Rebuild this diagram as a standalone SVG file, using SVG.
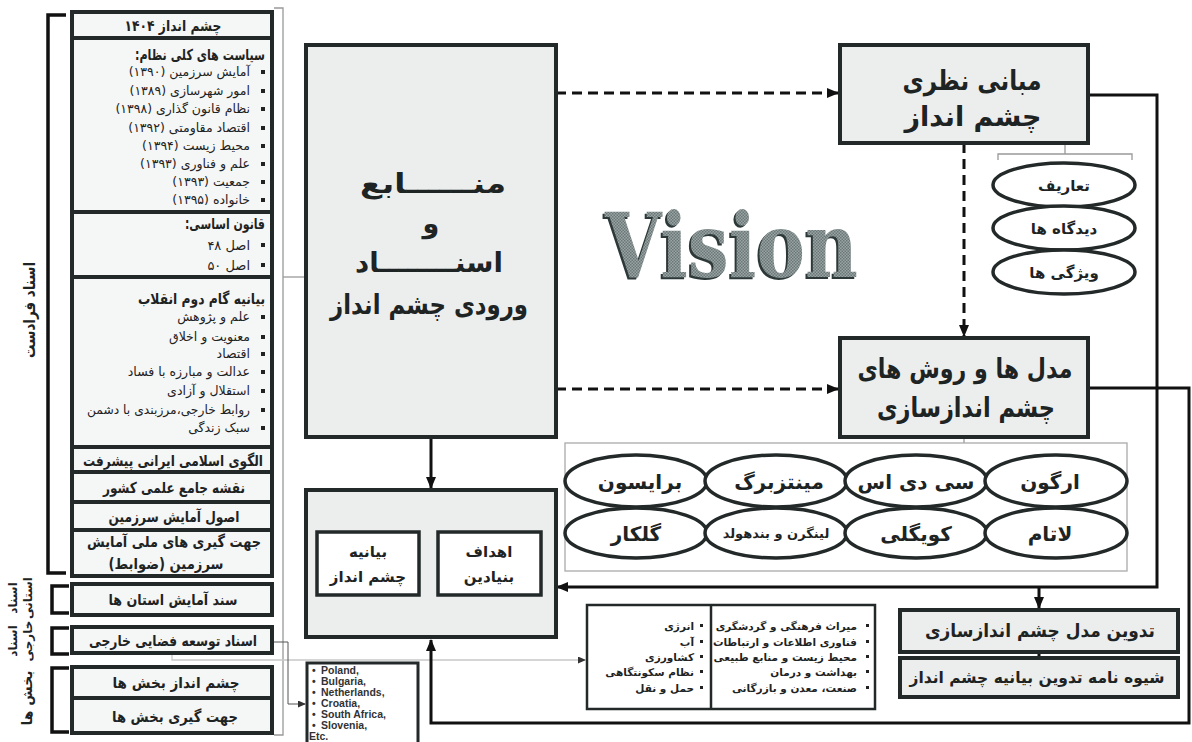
<svg xmlns="http://www.w3.org/2000/svg" width="1192" height="742" viewBox="0 0 1192 742">
<defs>
<style>
.fa{font-family:"DejaVu Sans","Noto Sans",sans-serif;fill:#1e2323}
.b{font-weight:bold}
.rtl{direction:rtl;text-anchor:start}
.mid{text-anchor:middle}
.box{fill:#eceeee;stroke:#222928;stroke-width:4}
.lbox{fill:#f5f6f6;stroke:#222928;stroke-width:4}
.wbox{fill:#ffffff;stroke:#222928;stroke-width:3.5}
.ell{fill:#ffffff;stroke:#222928;stroke-width:3.5}
.sol{fill:none;stroke:#111;stroke-width:3}
.dash{fill:none;stroke:#111;stroke-width:3;stroke-dasharray:10 6}
.thin{fill:none;stroke:#999;stroke-width:1.3}
.brk{fill:none;stroke:#111;stroke-width:3.5}
.bul{fill:#222}
.en{font-family:"Liberation Sans",Arial,sans-serif;font-weight:bold;fill:#333;font-size:10.5px}
</style>
<marker id="ah" markerWidth="12" markerHeight="10" refX="11" refY="5" orient="auto" markerUnits="userSpaceOnUse"><path d="M0,0 L12,5 L0,10 z" fill="#111"/></marker>
<marker id="ahs" markerWidth="8" markerHeight="7" refX="7" refY="3.5" orient="auto" markerUnits="userSpaceOnUse"><path d="M0,0 L8,3.5 L0,7 z" fill="#333"/></marker>
<pattern id="dots" width="3" height="3" patternUnits="userSpaceOnUse"><rect width="3" height="3" fill="#9aa4a4"/><rect width="1.5" height="1.5" fill="#6b7777"/><rect x="1.5" y="1.5" width="1.5" height="1.5" fill="#6b7777"/></pattern>
</defs>
<rect width="1192" height="742" fill="#ffffff"/>

<!-- connectors -->
<g id="connectors">
<path class="thin" d="M274,8 H283 V735 H274"/>
<path class="thin" d="M283,277 H306"/>
<path class="thin" d="M172,653 V660 H585" marker-end="url(#ahs)" style="stroke:#c8c8c8"/>
<path d="M272,642 H288 V704 H305" fill="none" stroke="#555" stroke-width="1" marker-end="url(#ahs)"/>
<path class="dash" d="M556,93 H838" marker-end="url(#ah)"/>
<path class="dash" d="M556,389 H838" marker-end="url(#ah)"/>
<path class="dash" d="M964,143 V336" marker-end="url(#ah)"/>
<path class="sol" d="M431,437 V488" marker-end="url(#ah)"/>
<path class="sol" d="M1088,95 H1157 V587 H557" marker-end="url(#ah)"/>
<path class="sol" d="M1039,587 V608" marker-end="url(#ah)"/>
<path class="sol" d="M1088,388 H1189 V723 H431 V640" marker-end="url(#ah)"/>
<path class="sol" d="M1039,652 V658"/>
<path class="thin" d="M964,437 V443"/>
<path class="thin" d="M998,160 V154 H1132 V160 M1065,143 V154"/>
<path d="M438,564 H421" fill="none" stroke="#222" stroke-width="2.5" marker-end="url(#ahs)"/>
</g>

<!-- left brackets and labels -->
<g id="brackets">
<path class="brk" d="M66,15 H48 V573 H66"/>
<path class="brk" d="M69,586 H52 V613 H69"/>
<path class="brk" d="M69,628 H52 V654 H69"/>
<path class="brk" d="M69,668 H52 V732 H69"/>
<text class="fa b mid" font-size="16" transform="translate(30,310) rotate(-90)" dy="5" textLength="96" lengthAdjust="spacingAndGlyphs">اسناد فرادست</text>
<text class="fa b mid" font-size="12" transform="translate(13,598) rotate(-90)" dy="4">اسناد</text>
<text class="fa b mid" font-size="12" transform="translate(28,598) rotate(-90)" dy="4">استانی</text>
<text class="fa b mid" font-size="12" transform="translate(13,641) rotate(-90)" dy="4">اسناد</text>
<text class="fa b mid" font-size="12" transform="translate(28,641) rotate(-90)" dy="4">خارجی</text>
<text class="fa b mid" font-size="14" transform="translate(28,698) rotate(-90)" dy="4">بخش ها</text>
</g>

<g id="n-vision1404">
<rect class="lbox" x="72" y="12" width="200" height="26"/>
<text class="fa b mid" font-size="15" x="173" y="31" textLength="97" lengthAdjust="spacingAndGlyphs">چشم انداز ۱۴۰۴</text>
</g>

<g id="n-policies">
<rect class="lbox" x="72" y="38" width="200" height="174"/>
<text class="fa b rtl" font-size="15" x="265" y="60" textLength="130" lengthAdjust="spacingAndGlyphs">سیاست های کلی نظام:</text>
<g font-size="12.5">
<text class="fa rtl" x="250" y="76">آمایش سرزمین (۱۳۹۰)</text>
<text class="fa rtl" x="250" y="95">امور شهرسازی (۱۳۸۹)</text>
<text class="fa rtl" x="250" y="113">نظام قانون گذاری (۱۳۹۸)</text>
<text class="fa rtl" x="250" y="132">اقتصاد مقاومتی (۱۳۹۲)</text>
<text class="fa rtl" x="250" y="150">محیط زیست (۱۳۹۴)</text>
<text class="fa rtl" x="250" y="168">علم و فناوری (۱۳۹۳)</text>
<text class="fa rtl" x="250" y="186">جمعیت (۱۳۹۳)</text>
<text class="fa rtl" x="250" y="204">خانواده (۱۳۹۵)</text>
</g>
<g class="bul">
<rect x="261" y="70" width="4" height="4"/><rect x="261" y="89" width="4" height="4"/><rect x="261" y="107" width="4" height="4"/><rect x="261" y="126" width="4" height="4"/><rect x="261" y="144" width="4" height="4"/><rect x="261" y="162" width="4" height="4"/><rect x="261" y="180" width="4" height="4"/><rect x="261" y="198" width="4" height="4"/>
</g>
</g>

<g id="n-constitution">
<rect class="lbox" x="72" y="212" width="200" height="65"/>
<text class="fa b rtl" font-size="15" x="265" y="229" textLength="80" lengthAdjust="spacingAndGlyphs">قانون اساسی:</text>
<text class="fa rtl" font-size="13" x="250" y="250">اصل ۴۸</text>
<text class="fa rtl" font-size="13" x="250" y="270">اصل ۵۰</text>
<rect class="bul" x="261" y="243" width="4" height="4"/><rect class="bul" x="261" y="263" width="4" height="4"/>
</g>

<g id="n-statement">
<rect class="lbox" x="72" y="277" width="200" height="170"/>
<text class="fa b rtl" font-size="15" x="265" y="304" textLength="127" lengthAdjust="spacingAndGlyphs">بیانیه گام دوم انقلاب</text>
<g font-size="12.5">
<text class="fa rtl" x="250" y="321">علم و پژوهش</text>
<text class="fa rtl" x="250" y="341">معنویت و اخلاق</text>
<text class="fa rtl" x="250" y="358">اقتصاد</text>
<text class="fa rtl" x="250" y="376">عدالت و مبارزه با فساد</text>
<text class="fa rtl" x="250" y="395">استقلال و آزادی</text>
<text class="fa rtl" x="250" y="414" textLength="163" lengthAdjust="spacingAndGlyphs">روابط خارجی،مرزبندی با دشمن</text>
<text class="fa rtl" x="250" y="432">سبک زندگی</text>
</g>
<g class="bul">
<rect x="261" y="315" width="4" height="4"/><rect x="261" y="335" width="4" height="4"/><rect x="261" y="352" width="4" height="4"/><rect x="261" y="370" width="4" height="4"/><rect x="261" y="389" width="4" height="4"/><rect x="261" y="408" width="4" height="4"/><rect x="261" y="426" width="4" height="4"/>
</g>
</g>

<g id="n-olgoo">
<rect class="lbox" x="72" y="447" width="200" height="25"/>
<text class="fa b mid" font-size="15" x="173" y="466" textLength="180" lengthAdjust="spacingAndGlyphs">الگوی اسلامی ایرانی پیشرفت</text>
</g>
<g id="n-naghshe">
<rect class="lbox" x="72" y="472" width="200" height="30"/>
<text class="fa b mid" font-size="15" x="174" y="493" textLength="142" lengthAdjust="spacingAndGlyphs">نقشه جامع علمی کشور</text>
</g>
<g id="n-osool">
<rect class="lbox" x="72" y="502" width="200" height="28"/>
<text class="fa b mid" font-size="15" x="174" y="522" textLength="131" lengthAdjust="spacingAndGlyphs">اصول آمایش سرزمین</text>
</g>
<g id="n-jahat-meli">
<rect class="lbox" x="72" y="530" width="200" height="46"/>
<text class="fa b mid" font-size="15" x="174" y="547" textLength="174" lengthAdjust="spacingAndGlyphs">جهت گیری های ملی آمایش</text>
<text class="fa b mid" font-size="15" x="166" y="569" textLength="115" lengthAdjust="spacingAndGlyphs">سرزمین (ضوابط)</text>
</g>
<g id="n-ostan">
<rect class="lbox" x="72" y="584" width="200" height="31"/>
<text class="fa b mid" font-size="15" x="173" y="605" textLength="129" lengthAdjust="spacingAndGlyphs">سند آمایش استان ها</text>
</g>
<g id="n-khareji">
<rect class="lbox" x="72" y="627" width="200" height="26"/>
<text class="fa b mid" font-size="15" x="173" y="646" textLength="168" lengthAdjust="spacingAndGlyphs">اسناد توسعه فضایی خارجی</text>
</g>
<g id="n-bakhsh1">
<rect class="lbox" x="72" y="667" width="200" height="31"/>
<text class="fa b mid" font-size="15" x="176" y="688" textLength="127" lengthAdjust="spacingAndGlyphs">چشم انداز بخش ها</text>
</g>
<g id="n-bakhsh2">
<rect class="lbox" x="72" y="698" width="200" height="35"/>
<text class="fa b mid" font-size="15" x="175" y="722" textLength="126" lengthAdjust="spacingAndGlyphs">جهت گیری بخش ها</text>
</g>

<g id="n-manabe">
<rect class="box" x="306" y="45" width="250" height="392"/>
<g class="fa b mid" font-size="27">
<text x="433" y="193" textLength="146" lengthAdjust="spacingAndGlyphs">منــــــابع</text>
<text x="431" y="233">و</text>
<text x="429" y="272" textLength="148" lengthAdjust="spacingAndGlyphs">اسنــــــــاد</text>
<text x="429" y="314" textLength="198" lengthAdjust="spacingAndGlyphs">ورودی چشم انداز</text>
</g>
</g>

<g id="n-mabani">
<rect class="box" x="840" y="45" width="248" height="98"/>
<text class="fa b mid" font-size="27" x="972" y="90" textLength="139" lengthAdjust="spacingAndGlyphs">مبانی نظری</text>
<text class="fa b mid" font-size="27" x="973" y="126" textLength="137" lengthAdjust="spacingAndGlyphs">چشم انداز</text>
</g>

<g id="n-tarif">
<ellipse class="ell" cx="1064" cy="185" rx="71" ry="22"/>
<text class="fa b mid" font-size="15" x="1064" y="191">تعاریف</text>
</g>
<g id="n-didgah">
<ellipse class="ell" cx="1064" cy="228" rx="71" ry="22"/>
<text class="fa b mid" font-size="15" x="1064" y="234">دیدگاه ها</text>
</g>
<g id="n-vizhegi">
<ellipse class="ell" cx="1064" cy="272" rx="71" ry="22"/>
<text class="fa b mid" font-size="15" x="1064" y="278">ویژگی ها</text>
</g>

<g id="n-vision">
<text x="603" y="279" font-family="'DejaVu Serif','Liberation Serif',serif" font-weight="bold" font-size="90" textLength="253" lengthAdjust="spacingAndGlyphs" fill="#2d3838">Vision</text>
<text x="605" y="277" font-family="'DejaVu Serif','Liberation Serif',serif" font-weight="bold" font-size="90" textLength="253" lengthAdjust="spacingAndGlyphs" fill="url(#dots)">Vision</text>
</g>

<g id="n-models">
<rect class="box" x="840" y="338" width="248" height="99"/>
<text class="fa b mid" font-size="27" x="965" y="378" textLength="215" lengthAdjust="spacingAndGlyphs">مدل ها و روش های</text>
<text class="fa b mid" font-size="27" x="966" y="417" textLength="178" lengthAdjust="spacingAndGlyphs">چشم اندازسازی</text>
</g>

<g id="n-methods">
<rect x="565" y="443" width="562" height="128" fill="#fff" stroke="#aaa" stroke-width="1.3"/>
<ellipse class="ell" cx="636" cy="481" rx="71" ry="26"/>
<ellipse class="ell" cx="776" cy="481" rx="71" ry="26"/>
<ellipse class="ell" cx="916" cy="481" rx="71" ry="26"/>
<ellipse class="ell" cx="1056" cy="481" rx="71" ry="26"/>
<ellipse class="ell" cx="636" cy="533" rx="71" ry="25"/>
<ellipse class="ell" cx="776" cy="533" rx="71" ry="25"/>
<ellipse class="ell" cx="916" cy="533" rx="71" ry="25"/>
<ellipse class="ell" cx="1056" cy="533" rx="71" ry="25"/>
<g class="fa b mid" font-size="20">
<text x="640" y="489">برایسون</text>
<text x="779" y="489">مینتزبرگ</text>
<text x="916" y="489">سی دی اس</text>
<text x="1050" y="489">ارگون</text>
<text x="636" y="541">گلکار</text>
<text x="776" y="538" font-size="13">لینگرن و بندهولد</text>
<text x="916" y="541">کویگلی</text>
<text x="1050" y="541">لاتام</text>
</g>
</g>

<g id="n-goals">
<rect class="box" x="306" y="490" width="250" height="147"/>
<rect class="wbox" x="317" y="532" width="102" height="63"/>
<rect class="wbox" x="438" y="532" width="103" height="63"/>
<text class="fa b mid" font-size="15" x="368" y="557">بیانیه</text>
<text class="fa b mid" font-size="15" x="368" y="582">چشم انداز</text>
<text class="fa b mid" font-size="15" x="489" y="557">اهداف</text>
<text class="fa b mid" font-size="15" x="489" y="582">بنیادین</text>
</g>

<g id="n-countries">
<rect x="307" y="663" width="111" height="95" fill="#fff" stroke="#222928" stroke-width="3"/>
<text class="en" x="312" y="674">•</text><text class="en" x="321" y="674">Poland,</text>
<text class="en" x="312" y="685">•</text><text class="en" x="321" y="685">Bulgaria,</text>
<text class="en" x="312" y="696">•</text><text class="en" x="321" y="696">Netherlands,</text>
<text class="en" x="312" y="707">•</text><text class="en" x="321" y="707">Croatia,</text>
<text class="en" x="312" y="718">•</text><text class="en" x="321" y="718">South Africa,</text>
<text class="en" x="312" y="729">•</text><text class="en" x="321" y="729">Slovenia,</text>
<text class="en" x="309" y="740">Etc.</text>
</g>

<g id="n-sectors">
<rect x="587" y="605" width="288" height="104" fill="#fff" stroke="#222928" stroke-width="2.5"/>
<line x1="711" y1="605" x2="711" y2="709" stroke="#222928" stroke-width="2.5"/>
<g class="fa b" font-size="10.5">
<text class="rtl" x="694" y="630">انرژی</text>
<text class="rtl" x="694" y="646">آب</text>
<text class="rtl" x="694" y="661">کشاورزی</text>
<text class="rtl" x="694" y="676">نظام سکونتگاهی</text>
<text class="rtl" x="694" y="692">حمل و نقل</text>
<text class="rtl" x="857" y="630">میراث فرهنگی و گردشگری</text>
<text class="rtl" x="857" y="646">فناوری اطلاعات و ارتباطات</text>
<text class="rtl" x="857" y="661">محیط زیست و منابع طبیعی</text>
<text class="rtl" x="857" y="676">بهداشت و درمان</text>
<text class="rtl" x="857" y="692">صنعت، معدن و بازرگانی</text>
</g>
<g class="bul">
<rect x="700" y="624" width="3" height="3"/><rect x="700" y="640" width="3" height="3"/><rect x="700" y="655" width="3" height="3"/><rect x="700" y="670" width="3" height="3"/><rect x="700" y="686" width="3" height="3"/>
<rect x="866" y="624" width="3" height="3"/><rect x="866" y="640" width="3" height="3"/><rect x="866" y="655" width="3" height="3"/><rect x="866" y="670" width="3" height="3"/><rect x="866" y="686" width="3" height="3"/>
</g>
</g>

<g id="n-tadvin">
<rect class="box" x="900" y="610" width="278" height="42"/>
<text class="fa b mid" font-size="18" x="1040" y="637" textLength="230" lengthAdjust="spacingAndGlyphs">تدوین مدل چشم اندازسازی</text>
</g>
<g id="n-shive">
<rect class="box" x="900" y="658" width="278" height="39"/>
<text class="fa b mid" font-size="16" x="1037" y="683" textLength="255" lengthAdjust="spacingAndGlyphs">شیوه نامه تدوین بیانیه چشم انداز</text>
</g>
</svg>
